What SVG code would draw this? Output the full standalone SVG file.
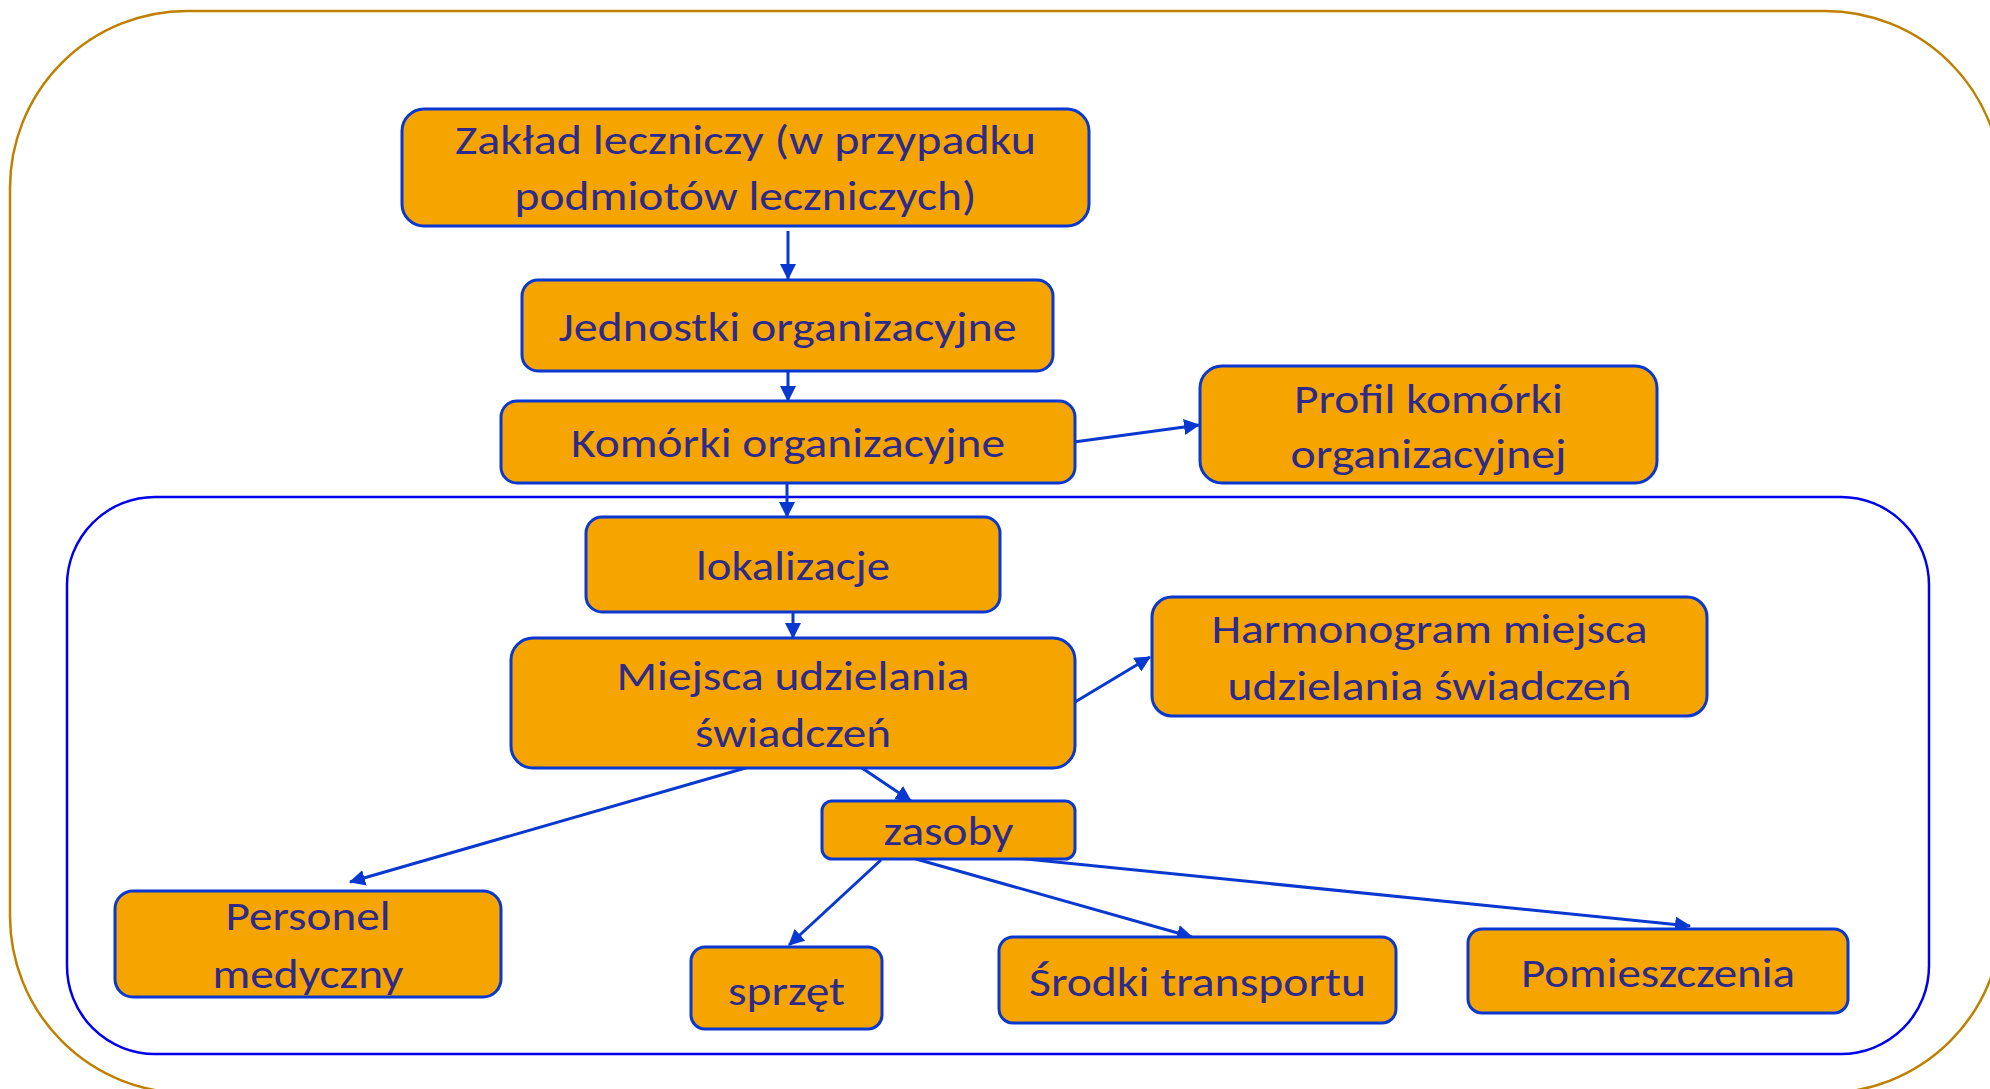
<svg xmlns="http://www.w3.org/2000/svg" width="1990" height="1089" viewBox="0 0 1990 1089">
<style>
.node rect{fill:#F6A500;stroke:#0838D0;stroke-width:3}
.node text{font-family:Carlito,Lato,"Noto Sans",sans-serif;font-size:42px;fill:#2E2A8C;text-anchor:middle}
.conn line{stroke:#0838D0;stroke-width:3;fill:none}
</style>
<defs>
<marker id="arr" markerUnits="userSpaceOnUse" markerWidth="16" markerHeight="16" refX="15" refY="8" orient="auto">
<path d="M0,0 L16,8 L0,16 z" fill="#0838D0"/>
</marker>
</defs>
<rect x="0" y="0" width="1990" height="1089" fill="#FFFFFF"/>
<rect id="outer-frame" x="10" y="11" width="1992" height="1082" rx="177" ry="177" fill="none" stroke="#BF8000" stroke-width="2.5"/>
<rect id="inner-frame" x="67" y="497" width="1862" height="557" rx="88" ry="88" fill="none" stroke="#0000EE" stroke-width="2.5"/>
<g class="conn" id="connectors">
<line x1="788" y1="231" x2="788" y2="279" marker-end="url(#arr)"/>
<line x1="788" y1="371" x2="788" y2="401" marker-end="url(#arr)"/>
<line x1="787" y1="483" x2="787" y2="517" marker-end="url(#arr)"/>
<line x1="793" y1="612" x2="793" y2="638" marker-end="url(#arr)"/>
<line x1="1074" y1="442" x2="1199" y2="425" marker-end="url(#arr)"/>
<line x1="1075" y1="702" x2="1150" y2="657" marker-end="url(#arr)"/>
<line x1="862" y1="768" x2="911" y2="801" marker-end="url(#arr)"/>
<line x1="749" y1="767" x2="350" y2="882" marker-end="url(#arr)"/>
<line x1="881" y1="860" x2="789" y2="945" marker-end="url(#arr)"/>
<line x1="916" y1="859" x2="1192" y2="937" marker-end="url(#arr)"/>
<line x1="1016" y1="858" x2="1690" y2="926" marker-end="url(#arr)"/>
</g>
<g class="node" id="zaklad">
<rect x="402" y="109" width="687" height="117" rx="22"/>
<text x="745.5" y="154" textLength="581" lengthAdjust="spacingAndGlyphs">Zakład leczniczy (w przypadku</text>
<text x="745.5" y="210" textLength="462" lengthAdjust="spacingAndGlyphs">podmiotów leczniczych)</text>
</g>
<g class="node" id="jednostki">
<rect x="522" y="280" width="531" height="91" rx="16"/>
<text x="787.5" y="341" textLength="458" lengthAdjust="spacingAndGlyphs">Jednostki organizacyjne</text>
</g>
<g class="node" id="komorki">
<rect x="501" y="401" width="574" height="82" rx="16"/>
<text x="788" y="457" textLength="434" lengthAdjust="spacingAndGlyphs">Komórki organizacyjne</text>
</g>
<g class="node" id="profil">
<rect x="1200" y="366" width="457" height="117" rx="22"/>
<text x="1428.5" y="413" textLength="269" lengthAdjust="spacingAndGlyphs">Profil komórki</text>
<text x="1428.5" y="468" textLength="276" lengthAdjust="spacingAndGlyphs">organizacyjnej</text>
</g>
<g class="node" id="lokalizacje">
<rect x="586" y="517" width="414" height="95" rx="16"/>
<text x="793" y="580" textLength="194" lengthAdjust="spacingAndGlyphs">lokalizacje</text>
</g>
<g class="node" id="miejsca">
<rect x="511" y="638" width="564" height="130" rx="22"/>
<text x="793" y="690" textLength="353" lengthAdjust="spacingAndGlyphs">Miejsca udzielania</text>
<text x="793" y="747" textLength="196" lengthAdjust="spacingAndGlyphs">świadczeń</text>
</g>
<g class="node" id="harmonogram">
<rect x="1152" y="597" width="555" height="119" rx="20"/>
<text x="1429.5" y="643" textLength="436" lengthAdjust="spacingAndGlyphs">Harmonogram miejsca</text>
<text x="1429.5" y="700" textLength="404" lengthAdjust="spacingAndGlyphs">udzielania świadczeń</text>
</g>
<g class="node" id="zasoby">
<rect x="822" y="801" width="253" height="58" rx="10"/>
<text x="948.5" y="845" textLength="130" lengthAdjust="spacingAndGlyphs">zasoby</text>
</g>
<g class="node" id="personel">
<rect x="115" y="891" width="386" height="106" rx="18"/>
<text x="308" y="930" textLength="165" lengthAdjust="spacingAndGlyphs">Personel</text>
<text x="308" y="988" textLength="191" lengthAdjust="spacingAndGlyphs">medyczny</text>
</g>
<g class="node" id="sprzet">
<rect x="691" y="947" width="191" height="82" rx="14"/>
<text x="786.5" y="1005" textLength="117" lengthAdjust="spacingAndGlyphs">sprzęt</text>
</g>
<g class="node" id="srodki">
<rect x="999" y="937" width="397" height="86" rx="14"/>
<text x="1197.5" y="996" textLength="337" lengthAdjust="spacingAndGlyphs">Środki transportu</text>
</g>
<g class="node" id="pomieszczenia">
<rect x="1468" y="929" width="380" height="84" rx="14"/>
<text x="1658" y="987" textLength="274" lengthAdjust="spacingAndGlyphs">Pomieszczenia</text>
</g>
</svg>
